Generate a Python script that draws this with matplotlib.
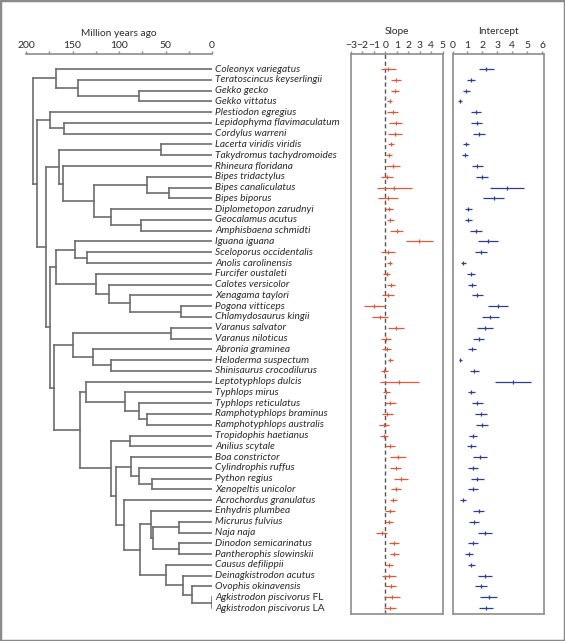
"""
Phylogeny of squamates with slope / intercept estimates
"""

import matplotlib
matplotlib.use("Agg")
import matplotlib.pyplot as plt
from matplotlib.patches import Rectangle

# ==========================================================
# Data
# ==========================================================

species = [
    "Coleonyx variegatus", "Teratoscincus keyserlingii", "Gekko gecko",
    "Gekko vittatus", "Plestiodon egregius", "Lepidophyma flavimaculatum",
    "Cordylus warreni", "Lacerta viridis viridis", "Takydromus tachydromoides",
    "Rhineura floridana", "Bipes tridactylus", "Bipes canaliculatus",
    "Bipes biporus", "Diplometopon zarudnyi", "Geocalamus acutus",
    "Amphisbaena schmidti", "Iguana iguana", "Sceloporus occidentalis",
    "Anolis carolinensis", "Furcifer oustaleti", "Calotes versicolor",
    "Xenagama taylori", "Pogona vitticeps", "Chlamydosaurus kingii",
    "Varanus salvator", "Varanus niloticus", "Abronia graminea",
    "Heloderma suspectum", "Shinisaurus crocodilurus", "Leptotyphlops dulcis",
    "Typhlops mirus", "Typhlops reticulatus", "Ramphotyphlops braminus",
    "Ramphotyphlops australis", "Tropidophis haetianus", "Anilius scytale",
    "Boa constrictor", "Cylindrophis ruffus", "Python regius",
    "Xenopeltis unicolor", "Acrochordus granulatus", "Enhydris plumbea",
    "Micrurus fulvius", "Naja naja", "Dinodon semicarinatus",
    "Pantherophis slowinskii", "Causus defilippii", "Deinagkistrodon acutus",
    "Ovophis okinavensis", "Agkistrodon piscivorus FL",
    "Agkistrodon piscivorus LA",
]

slope_mean = [
    0.26, 0.93, 0.85, 0.38, 0.64, 0.90, 0.87, 0.50, 0.35, 0.64,
    0.12, 0.79, 0.23, 0.32, 0.44, 0.99, 2.97, 0.23, 0.38, 0.12,
    0.52, 0.26, -0.96, -0.47, 0.93, 0.09, 0.12, 0.44, -0.09, 1.22,
    0.09, 0.41, 0.17, -0.12, -0.09, 0.41, 1.14, 0.90, 1.34, 0.90,
    0.70, 0.41, 0.29, -0.32, 0.76, 0.79, 0.29, 0.32, 0.47, 0.58,
    0.41,
]
slope_err = [
    0.65, 0.45, 0.36, 0.20, 0.50, 0.57, 0.60, 0.28, 0.26, 0.61,
    0.54, 1.56, 0.90, 0.32, 0.34, 0.55, 1.15, 0.57, 0.20, 0.29,
    0.35, 0.52, 0.90, 0.69, 0.73, 0.44, 0.39, 0.19, 0.29, 1.68,
    0.32, 0.48, 0.47, 0.45, 0.35, 0.42, 0.70, 0.48, 0.61, 0.45,
    0.28, 0.47, 0.35, 0.50, 0.47, 0.38, 0.35, 0.58, 0.48, 0.67,
    0.55,
]

intercept_mean = [
    2.27, 1.24, 0.93, 0.49, 1.56, 1.62, 1.76, 0.93, 0.84, 1.67,
    1.98, 3.64, 2.76, 1.07, 1.07, 1.56, 2.38, 1.90, 0.73, 1.22,
    1.29, 1.67, 3.07, 2.51, 2.20, 1.76, 1.31, 0.53, 1.44, 4.04,
    1.27, 1.67, 1.89, 1.96, 1.36, 1.27, 1.84, 1.38, 1.67, 1.36,
    0.71, 1.76, 1.44, 2.18, 1.40, 1.11, 1.27, 2.18, 1.89, 2.42,
    2.22,
]
intercept_err = [
    0.49, 0.27, 0.24, 0.12, 0.34, 0.37, 0.42, 0.20, 0.19, 0.39,
    0.41, 1.11, 0.71, 0.22, 0.22, 0.39, 0.69, 0.42, 0.16, 0.26,
    0.27, 0.38, 0.67, 0.57, 0.54, 0.36, 0.27, 0.12, 0.30, 1.20,
    0.24, 0.38, 0.40, 0.40, 0.28, 0.27, 0.50, 0.32, 0.41, 0.33,
    0.18, 0.36, 0.31, 0.46, 0.33, 0.26, 0.26, 0.47, 0.41, 0.57,
    0.47,
]

# tree in newick form, internal labels = node age (million years ago)
gekkota = "(Coleonyx variegatus,(Teratoscincus keyserlingii,(Gekko gecko,Gekko vittatus)78)144)168"
scinciformata = "(Plestiodon egregius,(Lepidophyma flavimaculatum,Cordylus warreni)159)174"
laterata = ("((Lacerta viridis viridis,Takydromus tachydromoides)55,(Rhineura floridana,"
            "((Bipes tridactylus,(Bipes canaliculatus,Bipes biporus)46)70,"
            "(Diplometopon zarudnyi,(Geocalamus acutus,Amphisbaena schmidti)76)109)127)160)164")
iguania = ("((Iguana iguana,(Sceloporus occidentalis,Anolis carolinensis)134)147,"
           "(Furcifer oustaleti,(Calotes versicolor,(Xenagama taylori,"
           "(Pogona vitticeps,Chlamydosaurus kingii)33)88)111)125)168")
anguimorpha = ("((Varanus salvator,Varanus niloticus)44,(Abronia graminea,"
               "(Heloderma suspectum,Shinisaurus crocodilurus)109)128)150")
scolecophidia = ("(Leptotyphlops dulcis,(Typhlops mirus,(Typhlops reticulatus,"
                 "(Ramphotyphlops braminus,Ramphotyphlops australis)70)79)94)135")
booidea = "(Boa constrictor,(Cylindrophis ruffus,(Python regius,Xenopeltis unicolor)65)78)87"
colubroidea = ("((Enhydris plumbea,((Micrurus fulvius,Naja naja)35,"
               "(Dinodon semicarinatus,Pantherophis slowinskii)36)63)66,"
               "(Causus defilippii,(Deinagkistrodon acutus,(Ovophis okinavensis,"
               "(Agkistrodon piscivorus FL,Agkistrodon piscivorus LA)0.4)22)31.5)49.5)77")

alethinophidia = (f"((Tropidophis haetianus,Anilius scytale)88,"
                  f"({booidea},(Acrochordus granulatus,{colubroidea})95)103)109")
serpentes = f"({scolecophidia},{alethinophidia})142"
toxicofera = f"({iguania},({anguimorpha},{serpentes})170)174"
tree_newick = f"({gekkota},({scinciformata},({laterata},{toxicofera})179)188.5)193"

age_ticks = [200, 150, 100, 50, 0]
age_minor = [175, 125, 75, 25]
slope_ticks = [-3, -2, -1, 0, 1, 2, 3, 4, 5]
intercept_ticks = [0, 1, 2, 3, 4, 5, 6]

# ==========================================================
# Style
# ==========================================================

plt.rcParams["font.family"] = ["Lato", "DejaVu Sans"]

W, H = 565, 641
TREE_COL = "#6d6d6d"
FRAME_COL = "#8e8e8e"
SLOPE_COL = "#e2583b"
INTER_COL = "#2d3f8e"
TEXT_COL = "#2a2a2a"

n = len(species)
top_px, bot_px = 54, 614
row0_px, row_last_px = 69, 608
row_h = (row_last_px - row0_px) / (n - 1)
ylim = ((n - 1) + (bot_px - row_last_px) / row_h, -(row0_px - top_px) / row_h)

tick_kw = dict(direction="out", length=2.5, width=1, color=FRAME_COL,
               labelsize=7.5, labelcolor=TEXT_COL, pad=0.3)


def px_axes(x0, x1):
    return fig.add_axes([x0 / W, 1 - bot_px / H, (x1 - x0) / W, (bot_px - top_px) / H])


def parse(s, i=0):
    if s[i] == "(":
        kids = []
        i += 1
        while True:
            kid, i = parse(s, i)
            kids.append(kid)
            if s[i] == ",":
                i += 1
            else:
                i += 1
                break
        j = i
        while j < len(s) and s[j] not in ",()":
            j += 1
        return (float(s[i:j]), kids), j
    j = i
    while s[j] not in ",()":
        j += 1
    return s[i:j].strip(), j


fig = plt.figure(figsize=(W / 100, H / 100), dpi=100)

# ==========================================================
# Tree
# ==========================================================

ax_tree = px_axes(26, 212)
ax_tree.set_xlim(200, 0)
ax_tree.set_ylim(*ylim)

line_kw = dict(color=TREE_COL, lw=1.2, solid_capstyle="projecting")


def draw(node):
    if isinstance(node, str):
        return 0.0, species.index(node)
    age, kids = node
    pts = [draw(k) for k in kids]
    ys = [p[1] for p in pts]
    for kid_age, kid_y in pts:
        ax_tree.plot([age, kid_age], [kid_y, kid_y], **line_kw)
    ax_tree.plot([age, age], [min(ys), max(ys)], **line_kw)
    return age, (min(ys) + max(ys)) / 2


root, _ = parse(tree_newick)
draw(root)

for i, name in enumerate(species):
    suffix = ""
    if name.endswith(" FL") or name.endswith(" LA"):
        name, suffix = name[:-3], name[-3:]
    t = ax_tree.text(-3.2, i, name, style="italic", fontsize=7.3, color=TEXT_COL,
                     ha="left", va="center", clip_on=False)
    if suffix:
        ax_tree.annotate(suffix, xy=(1, 0.5), xycoords=t, fontsize=7.3,
                         color=TEXT_COL, ha="left", va="center")

for side in ["left", "right", "bottom"]:
    ax_tree.spines[side].set_visible(False)
ax_tree.spines["top"].set_color(FRAME_COL)
ax_tree.spines["top"].set_linewidth(1.2)
ax_tree.set_yticks([])
ax_tree.set_xticks(age_ticks)
ax_tree.set_xticks(age_minor, minor=True)
ax_tree.xaxis.tick_top()
ax_tree.tick_params(axis="x", which="both", **tick_kw)
ax_tree.patch.set_visible(False)

# ==========================================================
# Slope / Intercept panels
# ==========================================================

ax_s = px_axes(351, 443)
ax_s.axvline(0, color="#555555", lw=1, dashes=(3, 2))
ax_s.errorbar(slope_mean, range(n), xerr=slope_err, fmt="|", color=SLOPE_COL,
              ms=2.5, mew=0.9, elinewidth=0.9, capsize=0)
ax_s.set_xlim(-3, 5.03)
ax_s.set_xticks(slope_ticks)
ax_s.set_xticklabels([str(v).replace("-", "\u2212") for v in slope_ticks])

ax_i = px_axes(452.5, 544)
ax_i.errorbar(intercept_mean, range(n), xerr=intercept_err, fmt="|", color=INTER_COL,
              ms=2.5, mew=0.9, elinewidth=0.9, capsize=0)
ax_i.set_xlim(0, 6.12)
ax_i.set_xticks(intercept_ticks)

for ax in [ax_s, ax_i]:
    ax.set_ylim(*ylim)
    ax.set_yticks([])
    ax.xaxis.tick_top()
    ax.tick_params(axis="x", **tick_kw)
    for sp in ax.spines.values():
        sp.set_color(FRAME_COL)
        sp.set_linewidth(1.2)

# ==========================================================
# Titles and frame
# ==========================================================

fig.text(119 / W, 1 - 33 / H, "Million years ago", ha="center", va="center",
         fontsize=7.3, color=TEXT_COL)
fig.text(397 / W, 1 - 32 / H, "Slope", ha="center", va="center",
         fontsize=7.3, color=TEXT_COL)
fig.text(498 / W, 1 - 32 / H, "Intercept", ha="center", va="center",
         fontsize=7.3, color=TEXT_COL)

fig.patches.append(Rectangle((0, 0), 1, 1, transform=fig.transFigure, fill=False,
                             ec="#8a8a8a", lw=2.5))

fig.savefig("out.png", dpi=100)
